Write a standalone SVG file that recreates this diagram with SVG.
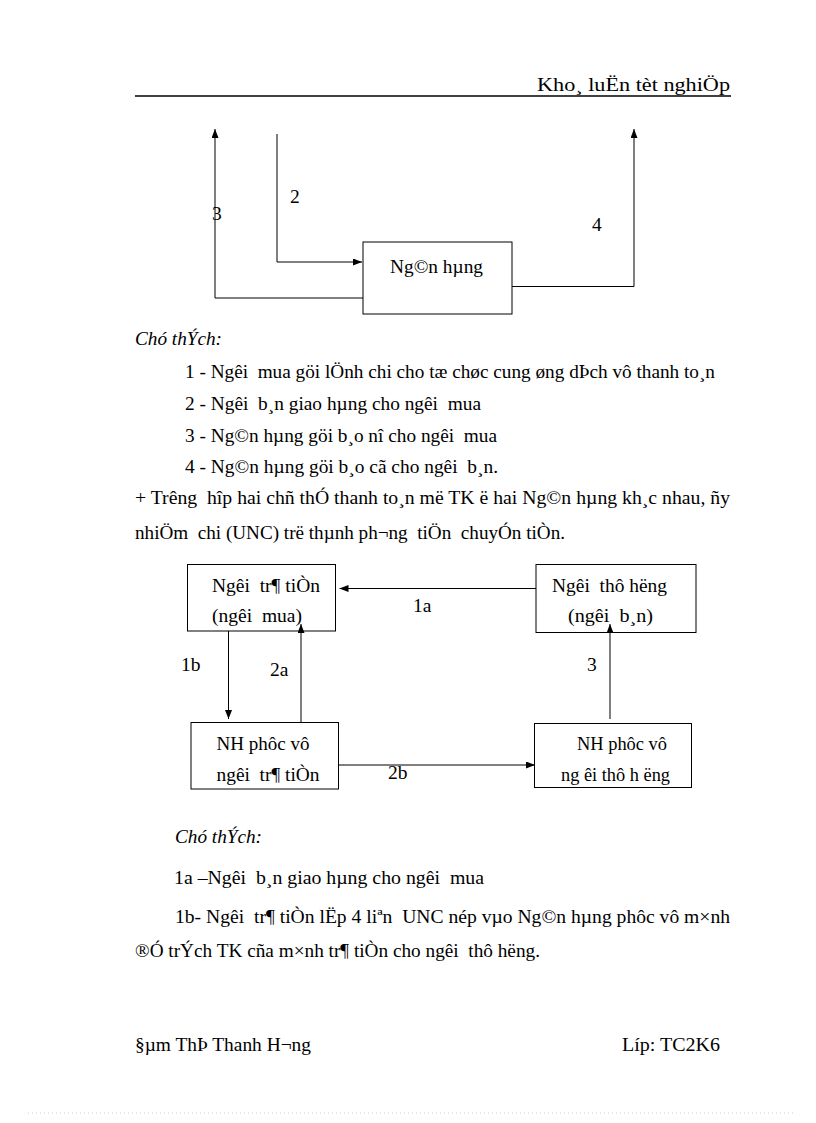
<svg xmlns="http://www.w3.org/2000/svg" width="816" height="1123" viewBox="0 0 816 1123">
<style>
text{font-family:"Liberation Serif","Times New Roman",serif;font-size:19.5px;fill:#000;white-space:pre}
.it{font-style:italic}
.box{fill:#fff;stroke:#000;stroke-width:1}
.ln{fill:none;stroke:#000;stroke-width:1}
</style>
<defs>
<marker id="ah" markerWidth="9" markerHeight="7" refX="9" refY="3.5" orient="auto" markerUnits="userSpaceOnUse">
<path d="M0,0 L9,3.5 L0,7 Z" fill="#000"/>
</marker>
</defs>
<rect width="816" height="1123" fill="#fff"/>

<g id="header">
<text x="537" y="91" font-size="23" textLength="193" lengthAdjust="spacingAndGlyphs">Kho¸ luËn tèt nghiÖp</text>
<line x1="135" y1="96" x2="731" y2="96" stroke="#000" stroke-width="1.3"/>
</g>

<g id="connectors1">
<polyline class="ln" points="363,298 215,298 215,129" marker-end="url(#ah)"/>
<polyline class="ln" points="277,134 277,262 362,262" marker-end="url(#ah)"/>
<polyline class="ln" points="512,286.5 634,286.5 634,129" marker-end="url(#ah)"/>
<text x="290" y="203">2</text>
<text x="212" y="220">3</text>
<text x="592" y="231">4</text>
</g>
<g id="node-nganhang">
<rect class="box" x="363" y="242" width="149" height="72"/>
<text x="390" y="273" textLength="93" lengthAdjust="spacingAndGlyphs">Ng©n hµng</text>
</g>

<g id="notes1">
<text class="it" x="135" y="345" textLength="87" lengthAdjust="spacingAndGlyphs">Chó thÝch:</text>
<text x="185" y="378" textLength="530" lengthAdjust="spacingAndGlyphs">1 - Ngêi  mua göi lÖnh chi cho tæ chøc cung øng dÞch vô thanh to¸n</text>
<text x="185" y="410" textLength="296" lengthAdjust="spacingAndGlyphs">2 - Ngêi  b¸n giao hµng cho ngêi  mua</text>
<text x="185" y="442" textLength="312" lengthAdjust="spacingAndGlyphs">3 - Ng©n hµng göi b¸o nî cho ngêi  mua</text>
<text x="185" y="473" textLength="313" lengthAdjust="spacingAndGlyphs">4 - Ng©n hµng göi b¸o cã cho ngêi  b¸n.</text>
<text x="135" y="504" textLength="595" lengthAdjust="spacingAndGlyphs">+ Trêng  hîp hai chñ thÓ thanh to¸n më TK ë hai Ng©n hµng kh¸c nhau, ñy</text>
<text x="135" y="539" textLength="430" lengthAdjust="spacingAndGlyphs">nhiÖm  chi (UNC) trë thµnh ph¬ng  tiÖn  chuyÓn tiÒn.</text>
</g>

<g id="node-nguoitratien">
<rect class="box" x="187.5" y="564.5" width="148" height="66.5"/>
<text x="212" y="592" textLength="108" lengthAdjust="spacingAndGlyphs">Ngêi  tr¶ tiÒn</text>
<text x="212" y="622" textLength="90" lengthAdjust="spacingAndGlyphs">(ngêi  mua)</text>
</g>
<g id="node-nguoithuhuong">
<rect class="box" x="536" y="564.5" width="160" height="68"/>
<text x="552" y="592" textLength="115" lengthAdjust="spacingAndGlyphs">Ngêi  thô hëng</text>
<text x="568" y="622" textLength="85" lengthAdjust="spacingAndGlyphs">(ngêi  b¸n)</text>
</g>
<g id="node-nhphucvu1">
<rect class="box" x="191" y="722.5" width="147.5" height="66.5"/>
<text x="216.5" y="750" textLength="93" lengthAdjust="spacingAndGlyphs">NH phôc vô</text>
<text x="216.5" y="781" textLength="103" lengthAdjust="spacingAndGlyphs">ngêi  tr¶ tiÒn</text>
</g>
<g id="node-nhphucvu2">
<rect class="box" x="534.5" y="723.5" width="157" height="64"/>
<text x="577" y="750" textLength="90" lengthAdjust="spacingAndGlyphs">NH phôc vô</text>
<text x="561" y="781" textLength="109" lengthAdjust="spacingAndGlyphs">ng êi thô h ëng</text>
</g>

<g id="connectors2">
<line class="ln" x1="536" y1="588.5" x2="339.5" y2="588.5" marker-end="url(#ah)"/>
<line class="ln" x1="228.5" y1="631" x2="228.5" y2="719" marker-end="url(#ah)"/>
<line class="ln" x1="301" y1="722.5" x2="301" y2="624" marker-end="url(#ah)"/>
<line class="ln" x1="338.5" y1="765" x2="535" y2="765" marker-end="url(#ah)"/>
<line class="ln" x1="610" y1="719" x2="610" y2="624" marker-end="url(#ah)"/>
<text x="413" y="612">1a</text>
<text x="181" y="671">1b</text>
<text x="270" y="676">2a</text>
<text x="587" y="671">3</text>
<text x="388" y="779">2b</text>
</g>

<g id="notes2">
<text class="it" x="175" y="843" textLength="87" lengthAdjust="spacingAndGlyphs">Chó thÝch:</text>
<text x="174" y="884" textLength="310" lengthAdjust="spacingAndGlyphs">1a –Ngêi  b¸n giao hµng cho ngêi  mua</text>
<text x="175" y="923" textLength="555" lengthAdjust="spacingAndGlyphs">1b- Ngêi  tr¶ tiÒn lËp 4 liªn  UNC nép vµo Ng©n hµng phôc vô m×nh</text>
<text x="135" y="957" textLength="405" lengthAdjust="spacingAndGlyphs">®Ó trÝch TK cña m×nh tr¶ tiÒn cho ngêi  thô hëng.</text>
</g>

<g id="footer">
<text x="135" y="1051" textLength="176" lengthAdjust="spacingAndGlyphs">§µm ThÞ Thanh H¬ng</text>
<text x="622" y="1051" textLength="98" lengthAdjust="spacingAndGlyphs">Líp: TC2K6</text>
<line x1="28" y1="1113" x2="795" y2="1113" stroke="#ccc" stroke-width="1" stroke-dasharray="1,3"/>
</g>
</svg>
